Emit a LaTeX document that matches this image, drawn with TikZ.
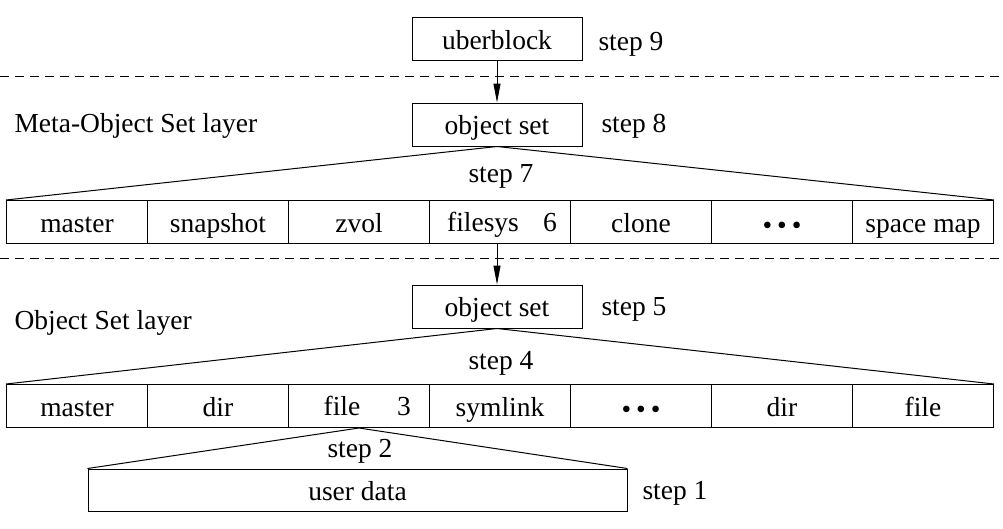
\documentclass[tikz,border=0pt]{standalone}
\usepackage{fontspec}
\setmainfont{Liberation Serif}
\usetikzlibrary{arrows.meta}
\newcommand{\mydots}{\raisebox{-2pt}{\textbullet\hspace{5pt}\textbullet\hspace{5pt}\textbullet}\hspace{12pt}}
\begin{document}
\begin{tikzpicture}[x=1pt,y=-1pt, line width=1pt,
  every node/.style={font=\fontsize{27.5}{30}\selectfont, inner sep=0pt, text height=22pt, text depth=2pt},
  cell/.style={draw, minimum width=141pt, minimum height=43pt, anchor=north west},
  box/.style={draw, minimum width=170pt, minimum height=43pt},
  lbl/.style={anchor=base west},
  clbl/.style={anchor=base},
  sep/.style={dash pattern=on 9pt off 6pt, line width=0.9pt},
  arr/.style={-{Triangle[length=19pt,width=7pt]}}]
\useasboundingbox (0,0) rectangle (1003,528);
% separators
\draw[sep] (0,76) -- (1003,76);
\draw[sep] (0,258) -- (1003,258);
% top boxes
\node[box] (ub) at (497,39) {uberblock};
\node[box] (os1) at (497,124.5) {object set};
\node[box] (os2) at (497,306.5) {object set};
% row 1
\foreach \i/\t in {1/master,2/snapshot,3/zvol,4/,5/clone,6/{\mydots},7/space map}
  \node[cell] (r1c\i) at ({6+141*(\i-1)},200) {\t};
\node (fs) at (483,221.5) {filesys};
\node (six) at (550,221.5) {6};
% row 2
\foreach \i/\t in {1/master,2/dir,3/,4/symlink,5/{\mydots},6/dir,7/file}
  \node[cell] (r2c\i) at ({6+141*(\i-1)},384) {\t};
\node (fl) at (342,405.5) {file};
\node (three) at (404,405.5) {3};
% user data
\node[draw, minimum width=539pt, minimum height=42pt] (ud) at (357.5,490) {user data};
% arrows
\draw[arr] (ub.south) -- (os1.north);
\draw[arr] (r1c4.south -| os2.north) -- (os2.north);
% fans
\draw (r1c1.north west) -- (os1.south) -- (r1c7.north east);
\draw (r2c1.north west) -- (os2.south) -- (r2c7.north east);
\draw (ud.north west) -- (r2c3.south) -- (ud.north east);
% labels
\node[lbl] (s9) at (598,50) {step 9};
\node[lbl] (s8) at (601,132) {step 8};
\node[clbl] (s7) at (501,182) {step 7};
\node[lbl] (s5) at (601,315) {step 5};
\node[clbl] (s4) at (501,369) {step 4};
\node[clbl] (s2) at (360,457) {step 2};
\node[lbl] (s1) at (642,499) {step 1};
\node[lbl] (mos) at (14,132) {Meta-Object Set layer};
\node[lbl] (osl) at (14,329) {Object Set layer};
\end{tikzpicture}
\end{document}
